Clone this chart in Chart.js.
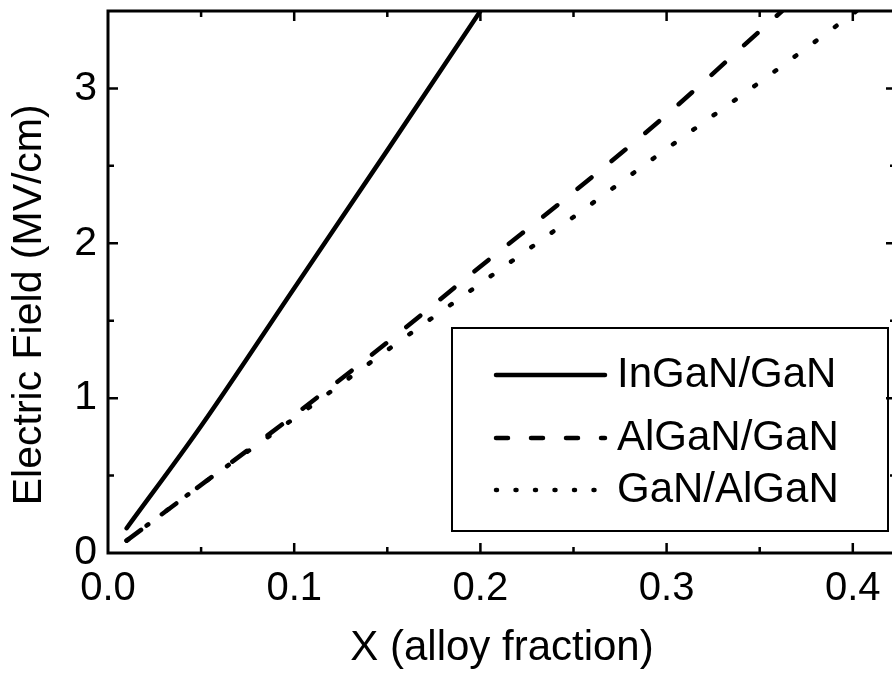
<!DOCTYPE html>
<html>
<head>
<meta charset="utf-8">
<script src="https://cdn.jsdelivr.net/npm/chart.js@4.4.1/dist/chart.umd.min.js"></script>
<style>
  html, body { margin: 0; padding: 0; background: #fff; overflow: hidden; }
  canvas { display: block; }
</style>
</head>
<body>
<!-- slightly wider than the window: the right frame edge sits just off-picture, as in the scan -->
<canvas id="fieldChart" width="896" height="678"></canvas>
<script>
// values
const seriesNames = ['InGaN/GaN', 'AlGaN/GaN', 'GaN/AlGaN'];

const inGaNX = [0.01, 0.05, 0.10, 0.15, 0.20];
const inGaNY = [0.16, 0.82, 1.71, 2.60, 3.50];

const alGaNX = [0.01, 0.05, 0.10, 0.15, 0.20, 0.25, 0.30, 0.35, 0.362];
const alGaNY = [0.08, 0.44, 0.89, 1.36, 1.85, 2.33, 2.83, 3.37, 3.50];

const gaNAlX = [0.01, 0.05, 0.10, 0.15, 0.20, 0.25, 0.30, 0.35, 0.402];
const gaNAlY = [0.08, 0.44, 0.87, 1.31, 1.74, 2.17, 2.61, 3.04, 3.50];

const xTicks = [0, 0.1, 0.2, 0.3, 0.4];
const xTickLabels = ['0.0', '0.1', '0.2', '0.3', '0.4'];
const xMinorTicks = [0.05, 0.15, 0.25, 0.35];
const yTicks = [0, 1, 2, 3];
const yTickLabels = ['0', '1', '2', '3'];
const yMinorTicks = [0.5, 1.5, 2.5, 3.5];

const toPoints = (xs, ys) => xs.map((x, i) => ({ x, y: ys[i] }));

const FONT = '"Liberation Sans", Arial, Helvetica, sans-serif';

// inward ticks on all four sides, the box, and the legend inside the plot
const frameAndLegend = {
	id: 'frameAndLegend',
	afterDraw(chart) {
		const { ctx, chartArea: a } = chart;
		const { x, y } = chart.scales;
		ctx.save();
		ctx.strokeStyle = '#000';
		ctx.lineCap = 'butt';

		ctx.lineWidth = 3;
		ctx.strokeRect(a.left, a.top, a.right - a.left, a.bottom - a.top);

		ctx.lineWidth = 2.5;
		ctx.beginPath();
		const xMark = (v, len) => {
			const px = x.getPixelForValue(v);
			if (px <= a.left + 2 || px >= a.right - 2) return;
			ctx.moveTo(px, a.bottom); ctx.lineTo(px, a.bottom - len);
			ctx.moveTo(px, a.top); ctx.lineTo(px, a.top + len);
		};
		const yMark = (v, len) => {
			const py = y.getPixelForValue(v);
			if (py <= a.top + 2 || py >= a.bottom - 2) return;
			ctx.moveTo(a.left, py); ctx.lineTo(a.left + len, py);
			ctx.moveTo(a.right, py); ctx.lineTo(a.right - len, py);
		};
		xTicks.forEach(v => xMark(v, 10));
		xMinorTicks.forEach(v => xMark(v, 6));
		yTicks.forEach(v => yMark(v, 10));
		yMinorTicks.forEach(v => yMark(v, 6));
		ctx.stroke();

		// legend box
		ctx.lineWidth = 2;
		ctx.strokeRect(452, 328, 436, 203);
		const rows = [375, 438, 490];
		ctx.font = '42px ' + FONT;
		ctx.fillStyle = '#000';
		ctx.textBaseline = 'middle';
		ctx.textAlign = 'left';
		chart.data.datasets.forEach((ds, i) => {
			ctx.save();
			ctx.lineWidth = ds.borderWidth;
			ctx.lineCap = 'round';
			ctx.setLineDash(ds.legendDash || []);
			ctx.beginPath();
			ctx.moveTo(496, rows[i]);
			ctx.lineTo(605, rows[i]);
			ctx.stroke();
			ctx.restore();
			ctx.fillText(ds.label, 617, rows[i]);
		});
		ctx.restore();
	}
};

new Chart(document.getElementById('fieldChart'), {
	type: 'line',
	data: {
		datasets: [{
			label: seriesNames[0],
			data: toPoints(inGaNX, inGaNY),
			borderColor: '#000',
			borderWidth: 4.5,
			borderCapStyle: 'round',
			cubicInterpolationMode: 'monotone',
			pointRadius: 0
		}, {
			label: seriesNames[1],
			data: toPoints(alGaNX, alGaNY),
			borderColor: '#000',
			borderWidth: 4.5,
			borderCapStyle: 'round',
			borderDash: [18, 26],
			legendDash: [12, 23],
			cubicInterpolationMode: 'monotone',
			pointRadius: 0
		}, {
			label: seriesNames[2],
			data: toPoints(gaNAlX, gaNAlY),
			borderColor: '#000',
			borderWidth: 4.5,
			borderCapStyle: 'round',
			borderDash: [2, 23],
			legendDash: [1, 18.5],
			cubicInterpolationMode: 'monotone',
			pointRadius: 0
		}]
	},
	options: {
		responsive: false,
		animation: false,
		layout: { padding: { top: 11, right: 0, bottom: 0, left: 0 } },
		plugins: { legend: { display: false }, tooltip: { enabled: false } },
		scales: {
			x: {
				type: 'linear',
				min: 0,
				max: 0.4232,
				afterFit: s => { s.height = 125; s.paddingLeft = 0; s.paddingRight = 0; },
				afterBuildTicks: s => { s.ticks = xTicks.map(v => ({ value: v })); },
				grid: { display: false, drawTicks: false },
				border: { display: false },
				ticks: {
					color: '#000',
					padding: 12,
					maxRotation: 0,
					font: { family: FONT, size: 40 },
					callback: (v, i) => xTickLabels[i]
				},
				title: {
					display: true,
					text: 'X (alloy fraction)',
					color: '#000',
					font: { family: FONT, size: 42 },
					padding: { top: 0, bottom: 4 }
				}
			},
			y: {
				type: 'linear',
				min: 0,
				max: 3.5,
				afterFit: s => { s.width = 108; s.paddingTop = 0; s.paddingBottom = 0; },
				afterBuildTicks: s => { s.ticks = yTicks.map(v => ({ value: v })); },
				grid: { display: false, drawTicks: false },
				border: { display: false },
				ticks: {
					color: '#000',
					padding: 11,
					font: { family: FONT, size: 41 },
					callback: (v, i) => yTickLabels[i]
				},
				title: {
					display: true,
					text: 'Electric Field (MV/cm)\u00a0\u00a0\u00a0\u00a0',
					color: '#000',
					font: { family: FONT, size: 41 },
					padding: { top: 5, bottom: 0 }
				}
			}
		}
	},
	plugins: [frameAndLegend]
});
</script>
</body>
</html>
